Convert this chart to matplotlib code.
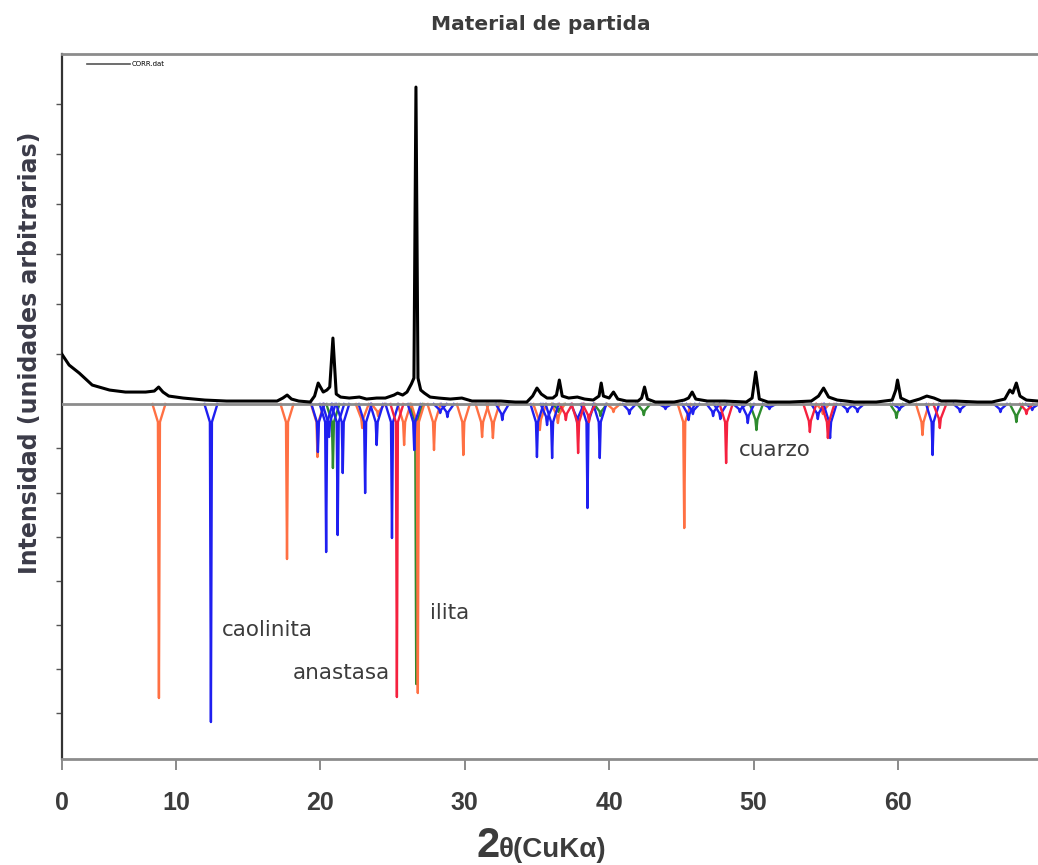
import matplotlib
matplotlib.use("Agg")
import matplotlib.pyplot as plt

meas_x = [2.0, 2.6, 3.3, 4.2, 5.4, 6.5, 7.9, 8.5, 8.8, 9.1, 9.5, 10.5, 12.0, 13.5, 15.5,
          17.0, 17.4, 17.7, 18.0, 18.5, 19.3, 19.6, 19.85, 20.2, 20.45, 20.65, 20.87, 21.1,
          21.4, 22.0, 22.7, 23.2, 23.9, 24.5, 25.1, 25.35, 25.7, 26.0, 26.3, 26.48, 26.62,
          26.76, 26.95, 27.2, 27.6, 28.2, 29.0, 29.8, 30.5, 31.5, 32.5, 33.5, 34.3, 34.7,
          35.0, 35.3, 35.7, 36.1, 36.35, 36.55, 36.75, 37.2, 37.8, 38.3, 38.9, 39.3, 39.45,
          39.6, 40.0, 40.3, 40.6, 41.2, 42.0, 42.25, 42.45, 42.65, 43.2, 44.5, 45.2, 45.5,
          45.75, 46.0, 46.8, 48.0, 49.5, 49.9, 50.15, 50.4, 51.0, 52.5, 54.0, 54.5, 54.85,
          55.2, 55.8, 57.0, 58.5, 59.6, 59.85, 59.97, 60.2, 60.8, 61.5, 62.0, 62.5, 63.0,
          64.0, 65.5, 66.5, 67.4, 67.75, 67.95, 68.2, 68.45, 68.9, 69.7]
meas_y = [52, 39, 31, 19, 14, 12, 12, 13, 17, 12, 8, 6, 4, 3, 3,
          3, 6, 9, 5, 3, 2, 8, 21, 12, 14, 17, 66, 10,
          7, 6, 7, 5, 6, 6, 9, 11, 9, 12, 20, 26, 317,
          26, 14, 11, 7, 6, 5, 6, 3, 3, 3, 2, 2, 8,
          16, 10, 6, 6, 9, 24, 8, 6, 7, 5, 4, 8, 21,
          8, 6, 12, 5, 3, 3, 6, 17, 5, 2, 2, 4, 6,
          12, 5, 3, 3, 2, 6, 32, 5, 2, 2, 3, 8, 16,
          7, 4, 2, 2, 4, 14, 24, 6, 2, 5, 8, 6, 3,
          3, 2, 2, 5, 14, 11, 21, 8, 4, 3]

# reference patterns (drawn downwards): peak positions and depths
ilita_pos = [8.82, 17.69, 19.8, 22.9, 24.0, 25.8, 26.75, 27.87, 29.9, 31.2, 31.95,
             35.2, 36.45, 40.3, 45.2, 54.8, 61.7]
ilita_h = [294, 155, 53, 24, 12, 41, 289, 46, 51, 33, 34, 26, 19, 8, 124, 10, 31]

caol_pos = [12.42, 19.83, 20.4, 20.6, 21.2, 21.55, 23.1, 23.9, 24.96, 26.5, 28.3, 28.8,
            32.6, 35.0, 35.7, 36.05, 37.8, 38.5, 39.35, 41.4, 43.9, 45.5, 45.8, 47.2,
            47.7, 49.05, 49.6, 51.1, 54.45, 55.3, 56.5, 57.2, 60.1, 62.4, 64.3, 67.1, 69.3]
caol_h = [318, 48, 148, 33, 131, 69, 89, 41, 134, 46, 9, 13,
          16, 53, 21, 54, 21, 104, 54, 10, 5, 16, 10, 12,
          15, 8, 19, 5, 15, 34, 8, 8, 6, 51, 8, 8, 6]

anat_pos = [25.3, 37.0, 37.85, 38.6, 48.1, 53.9, 55.15, 62.9, 68.9]
anat_h = [293, 16, 49, 18, 59, 28, 34, 24, 10]

cuarzo_pos = [20.87, 26.64, 36.5, 39.4, 42.4, 50.2, 59.9, 68.2]
cuarzo_h = [64, 280, 8, 12, 11, 26, 14, 18]

xtick_pos = [2.105, 10, 20, 30, 40, 50, 60]
xtick_lab = ["0", "10", "20", "30", "40", "50", "60"]
ytick_pos = [50, 100, 150, 200, 250, 300, -44, -89, -133, -177, -221, -265, -309]

text_col = "#3c3c3c"

fig = plt.figure(figsize=(10.38, 8.65), dpi=100)
ax = fig.add_axes([0.0597, 0.1225, 0.9403, 0.8150])


def draw_pattern(pos, h, col):
    # narrow flared peak for each reference line
    for x, d in zip(pos, h):
        c = min(d, 30)
        ax.plot([x - 0.45, x - 0.07, x, x + 0.07, x + 0.45],
                [0, -0.6 * c, -d, -0.6 * c, 0], color=col, lw=1.7, zorder=2)


draw_pattern(cuarzo_pos, cuarzo_h, "#2e8b2e")
draw_pattern(ilita_pos, ilita_h, "#ff7043")
draw_pattern(caol_pos, caol_h, "#1f1ff0")
draw_pattern(anat_pos, anat_h, "#f5213f")

ax.axhline(0, color="#8c8c8c", lw=2, zorder=3)
ax.plot(meas_x, meas_y, color="black", lw=2.2, zorder=4, label="CORR.dat")

leg = ax.legend(loc="upper left", bbox_to_anchor=(0.022, 0.995), fontsize=5,
                frameon=False, handlelength=6.2, handletextpad=0.2, borderpad=0)
leg.get_lines()[0].set_linewidth(1.2)
leg.get_lines()[0].set_color("#555555")

ax.set_xlim(2.105, 69.7)
ax.set_ylim(-355, 350)

ax.set_xticks(xtick_pos)
ax.set_xticklabels(xtick_lab, fontsize=18, fontweight="bold", color=text_col,
                   family="Liberation Sans")
ax.tick_params(axis="x", direction="out", length=8, width=1.2, color="#777777", pad=15)
ax.set_yticks(ytick_pos)
ax.set_yticklabels([])
ax.tick_params(axis="y", direction="out", length=4, width=1, color="#555555")

ax.spines["right"].set_visible(False)
ax.spines["left"].set_linewidth(1.6)
ax.spines["left"].set_color("#333333")
for s in ["top", "bottom"]:
    ax.spines[s].set_linewidth(2)
    ax.spines[s].set_color("#8c8c8c")

# phase labels
ax.text(13.19, -226, "caolinita", fontsize=15.5, color=text_col, va="center")
ax.text(18.1, -269, "anastasa", fontsize=15.5, color=text_col, va="center")
ax.text(27.59, -209, "ilita", fontsize=15.5, color=text_col, va="center")
ax.text(48.99, -46, "cuarzo", fontsize=15.5, color=text_col, va="center")

fig.text(0.521, 1 - 24 / 865, "Material de partida", fontsize=14.5, fontweight="bold",
         color=text_col, ha="center", va="center")
fig.text(30 / 1038, 1 - 353 / 865, "Intensidad (unidades arbitrarias)", fontsize=17,
         fontweight="bold", color="#3b3b48", rotation=90, ha="center", va="center")
fig.text(477 / 1038, 1 - 857 / 865, "2", fontsize=30, fontweight="bold", color=text_col,
         family="Liberation Sans", ha="left", va="baseline")
fig.text(499 / 1038, 1 - 857 / 865, "θ(CuKα)", fontsize=20, fontweight="bold",
         color=text_col, family="Liberation Sans", ha="left", va="baseline")

fig.savefig("out.png", dpi=100, facecolor="white")
